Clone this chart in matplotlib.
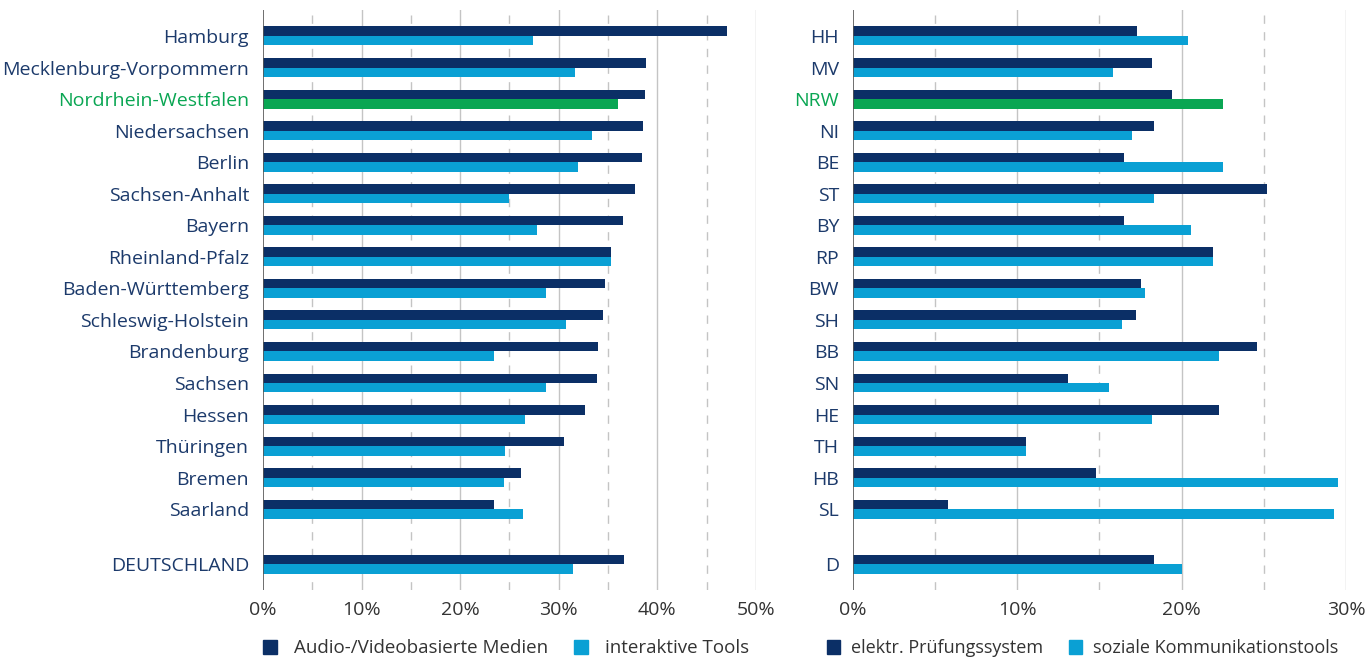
import numpy as np
import matplotlib
matplotlib.use('Agg')
from matplotlib import pyplot as plt
from matplotlib.patches import Patch

plt.rcParams['font.family'] = ['Open Sans', 'DejaVu Sans']

# data
states = ['Hamburg', 'Mecklenburg-Vorpommern', 'Nordrhein-Westfalen', 'Niedersachsen',
          'Berlin', 'Sachsen-Anhalt', 'Bayern', 'Rheinland-Pfalz', 'Baden-Württemberg',
          'Schleswig-Holstein', 'Brandenburg', 'Sachsen', 'Hessen', 'Thüringen',
          'Bremen', 'Saarland', 'DEUTSCHLAND']
codes = ['HH', 'MV', 'NRW', 'NI', 'BE', 'ST', 'BY', 'RP', 'BW', 'SH', 'BB', 'SN',
         'HE', 'TH', 'HB', 'SL', 'D']
audio_video = [47.1, 38.8, 38.7, 38.5, 38.4, 37.7, 36.5, 35.3, 34.7, 34.5, 34.0, 33.9,
               32.7, 30.5, 26.2, 23.4, 36.6]
interaktiv = [27.4, 31.6, 36.0, 33.4, 31.9, 25.0, 27.8, 35.3, 28.7, 30.7, 23.4, 28.7,
              26.6, 24.5, 24.4, 26.4, 31.4]
pruefung = [17.3, 18.2, 19.4, 18.3, 16.5, 25.2, 16.5, 21.9, 17.5, 17.2, 24.6, 13.1,
            22.3, 10.5, 14.8, 5.8, 18.3]
sozial = [20.4, 15.8, 22.5, 17.0, 22.5, 18.3, 20.6, 21.9, 17.8, 16.4, 22.3, 15.6,
          18.2, 10.5, 29.5, 29.3, 20.0]

DARK = '#0b2f66'
LIGHT = '#0aa0d4'
GREEN = '#0aa653'
TXT = '#1c3a6b'
highlight = 'Nordrhein-Westfalen'

ypos = np.arange(len(states), dtype=float)
ypos[-1] = 16.75
h = 0.3

fig = plt.figure(figsize=(13.67, 6.59), dpi=100)
ax1 = fig.add_axes([0.1924, 0.1047, 0.3606, 0.880])
ax2 = fig.add_axes([0.624, 0.1047, 0.3606, 0.880])


def draw_panel(ax, labels, v1, v2, xmax, names, leg_x, leg_fs, leg_pad):
    light_cols = [GREEN if s == highlight else LIGHT for s in states]
    ax.barh(ypos - h / 2, v1, height=h, color=DARK, zorder=3)
    ax.barh(ypos + h / 2, v2, height=h, color=light_cols, zorder=3)
    ax.set_xlim(0, xmax)
    ax.set_ylim(17.56, -0.82)
    ax.set_yticks(ypos)
    ax.set_yticklabels(labels, fontsize=14)
    for lab, s in zip(ax.get_yticklabels(), states):
        lab.set_color(GREEN if s == highlight else TXT)
    ax.set_xticks(np.arange(0, xmax + 1, 10))
    ax.set_xticklabels(['%d%%' % t for t in np.arange(0, xmax + 1, 10)], fontsize=14, color='#333333')
    for t in np.arange(10, xmax + 1, 10):
        ax.axvline(t, color='#c4c4c4', lw=1, zorder=1)
    for t in np.arange(5, xmax, 10):
        ax.axvline(t, color='#c4c4c4', lw=1, ls=(0, (6, 6)), zorder=1)
    ax.axvline(0, color='#555555', lw=1.2, zorder=4)
    for sp in ax.spines.values():
        sp.set_visible(False)
    ax.tick_params(axis='y', length=0, pad=10)
    ax.tick_params(axis='x', length=0, pad=8)
    handles = [Patch(color=DARK), Patch(color=LIGHT)]
    ax.legend(handles, names, loc='upper left', bbox_to_anchor=(leg_x, -0.085), ncol=2,
              frameon=False, fontsize=leg_fs, handlelength=0.75, handleheight=0.75,
              columnspacing=1.4, handletextpad=leg_pad, labelcolor='#333333',
              borderaxespad=0, borderpad=0)


draw_panel(ax1, states, audio_video, interaktiv, 50,
           ['Audio-/Videobasierte Medien', 'interaktive Tools'], 0.0, 13.5, 0.9)
draw_panel(ax2, codes, pruefung, sozial, 30,
           ['elektr. Prüfungssystem', 'soziale Kommunikationstools'], -0.053, 13, 0.6)

fig.savefig('out.png', dpi=100)
